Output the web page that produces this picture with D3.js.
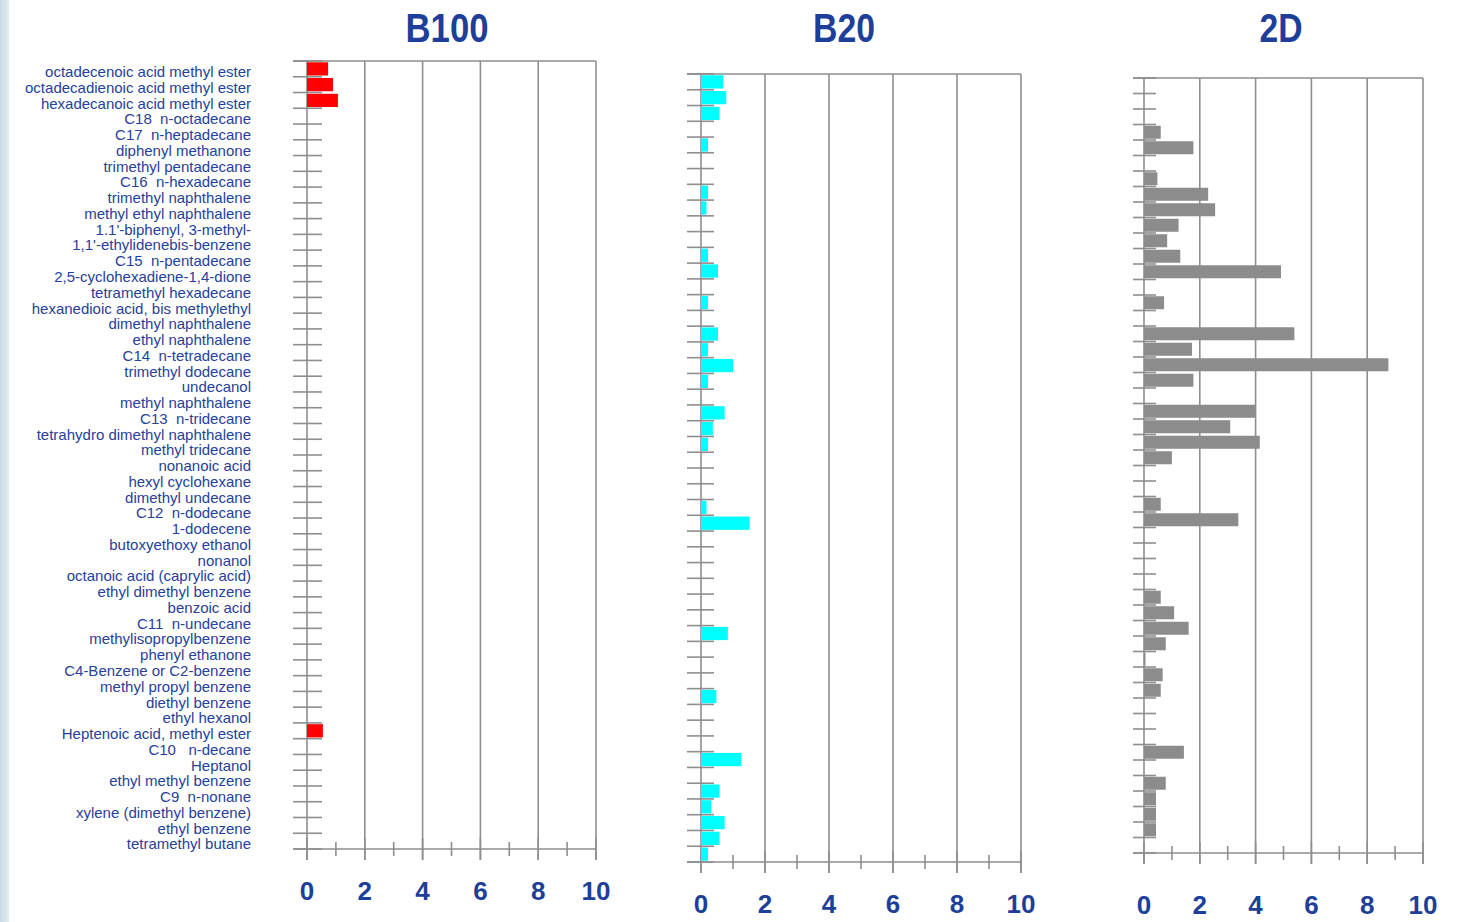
<!DOCTYPE html>
<html>
<head>
<meta charset="utf-8">
<script src="https://cdn.jsdelivr.net/npm/d3@7"></script>
<style>
  html, body { margin: 0; padding: 0; background: #fff; }
  svg { display: block; }
</style>
</head>
<body>
<div id="chart"></div>
<script>
const categories = [
  "octadecenoic acid methyl ester",
  "octadecadienoic acid methyl ester",
  "hexadecanoic acid methyl ester",
  "C18  n-octadecane",
  "C17  n-heptadecane",
  "diphenyl methanone",
  "trimethyl pentadecane",
  "C16  n-hexadecane",
  "trimethyl naphthalene",
  "methyl ethyl naphthalene",
  "1.1'-biphenyl, 3-methyl-",
  "1,1'-ethylidenebis-benzene",
  "C15  n-pentadecane",
  "2,5-cyclohexadiene-1,4-dione",
  "tetramethyl hexadecane",
  "hexanedioic acid, bis methylethyl",
  "dimethyl naphthalene",
  "ethyl naphthalene",
  "C14  n-tetradecane",
  "trimethyl dodecane",
  "undecanol",
  "methyl naphthalene",
  "C13  n-tridecane",
  "tetrahydro dimethyl naphthalene",
  "methyl tridecane",
  "nonanoic acid",
  "hexyl cyclohexane",
  "dimethyl undecane",
  "C12  n-dodecane",
  "1-dodecene",
  "butoxyethoxy ethanol",
  "nonanol",
  "octanoic acid (caprylic acid)",
  "ethyl dimethyl benzene",
  "benzoic acid",
  "C11  n-undecane",
  "methylisopropylbenzene",
  "phenyl ethanone",
  "C4-Benzene or C2-benzene",
  "methyl propyl benzene",
  "diethyl benzene",
  "ethyl hexanol",
  "Heptenoic acid, methyl ester",
  "C10   n-decane",
  "Heptanol",
  "ethyl methyl benzene",
  "C9  n-nonane",
  "xylene (dimethyl benzene)",
  "ethyl benzene",
  "tetramethyl butane"
];

// values read per panel row (row i of each panel)
const b100Values = [
  0.73, 0.9, 1.07, 0, 0, 0, 0, 0, 0, 0,
  0, 0, 0, 0, 0, 0, 0, 0, 0, 0,
  0, 0, 0, 0, 0, 0, 0, 0, 0, 0,
  0, 0, 0, 0, 0, 0, 0, 0, 0, 0,
  0, 0, 0.55, 0, 0, 0, 0, 0, 0, 0
];
const b20Values = [
  0.69, 0.79, 0.58, 0, 0.22, 0, 0, 0.22, 0.17, 0,
  0, 0.22, 0.53, 0, 0.22, 0, 0.53, 0.22, 1.0, 0.22,
  0, 0.74, 0.37, 0.22, 0, 0, 0, 0.17, 1.52, 0,
  0, 0, 0, 0, 0, 0.84, 0, 0, 0, 0.48,
  0, 0, 0, 1.26, 0, 0.58, 0.32, 0.74, 0.58, 0.22
];
const d2Values = [
  0, 0, 0, 0.6, 1.77, 0, 0.48, 2.3, 2.55, 1.24,
  0.83, 1.3, 4.91, 0, 0.72, 0, 5.39, 1.72, 8.76, 1.77,
  0, 4.0, 3.09, 4.15, 1.0, 0, 0, 0.6, 3.38, 0,
  0, 0, 0, 0.6, 1.08, 1.6, 0.78, 0.05, 0.67, 0.6,
  0, 0, 0, 1.43, 0, 0.78, 0.43, 0.43, 0.43, 0
];
const majorTicks = [0, 2, 4, 6, 8, 10];
const minorTicks = [1, 3, 5, 7, 9];

const W = 1458, H = 922;
const blue = "#1d3f99";
const grey = "#8e8e8e";

const panels = [
  { title: "B100", values: b100Values, color: "#ff0000", x0: 307, x1: 596, top: 61, bottom: 849,
    tickLeft: 293, tickRight: 322, labelDy: 51, titleX: 447, titleW: 83 },
  { title: "B20", values: b20Values, color: "#00ffff", x0: 701, x1: 1021, top: 74, bottom: 862,
    tickLeft: 687, tickRight: 714, labelDy: 51, titleX: 844, titleW: 62 },
  { title: "2D", values: d2Values, color: "#8c8c8c", x0: 1144, x1: 1423, top: 78, bottom: 853,
    tickLeft: 1133, tickRight: 1156, labelDy: 62, titleX: 1281, titleW: 43 }
];

const svg = d3.select("#chart").append("svg")
  .attr("width", W)
  .attr("height", H)
  .style("font-family", "'Liberation Sans', Arial, sans-serif");

const defs = svg.append("defs");
const grad = defs.append("linearGradient").attr("id", "strip").attr("x1", 0).attr("x2", 1);
grad.append("stop").attr("offset", "0%").attr("stop-color", "#c6dbe2");
grad.append("stop").attr("offset", "100%").attr("stop-color", "#e2edf1");

panels.forEach((p) => {
  const x = d3.scaleLinear().domain([0, 10]).range([p.x0, p.x1]);
  const y = d3.scaleBand().domain(categories).range([p.top, p.bottom]).paddingInner(0.16).paddingOuter(0.08);
  const g = svg.append("g");

  // gridlines
  g.selectAll("line.grid")
    .data(majorTicks.filter((d) => d > 0))
    .join("line")
    .attr("x1", (d) => x(d)).attr("x2", (d) => x(d))
    .attr("y1", p.top).attr("y2", p.bottom + 11)
    .attr("stroke", grey).attr("stroke-width", 1.6);

  // top frame and bottom axis
  g.append("line")
    .attr("x1", p.tickLeft).attr("x2", x(10))
    .attr("y1", p.top).attr("y2", p.top)
    .attr("stroke", grey).attr("stroke-width", 1.6);
  g.append("line")
    .attr("x1", p.tickLeft).attr("x2", x(10))
    .attr("y1", p.bottom).attr("y2", p.bottom)
    .attr("stroke", grey).attr("stroke-width", 1.6);

  // vertical axis
  g.append("line")
    .attr("x1", x(0)).attr("x2", x(0))
    .attr("y1", p.top).attr("y2", p.bottom + 11)
    .attr("stroke", grey).attr("stroke-width", 1.6);

  // category ticks at band boundaries
  const step = (p.bottom - p.top) / categories.length;
  g.selectAll("line.cat")
    .data(d3.range(categories.length + 1))
    .join("line")
    .attr("x1", p.tickLeft).attr("x2", p.tickRight)
    .attr("y1", (i) => p.top + i * step).attr("y2", (i) => p.top + i * step)
    .attr("stroke", grey).attr("stroke-width", 1.6);

  // x ticks
  g.selectAll("line.major")
    .data(majorTicks)
    .join("line")
    .attr("x1", (d) => x(d)).attr("x2", (d) => x(d))
    .attr("y1", p.bottom - 11).attr("y2", p.bottom + 11)
    .attr("stroke", grey).attr("stroke-width", 1.6);
  g.selectAll("line.minor")
    .data(minorTicks)
    .join("line")
    .attr("x1", (d) => x(d)).attr("x2", (d) => x(d))
    .attr("y1", p.bottom - 7).attr("y2", p.bottom + 7)
    .attr("stroke", grey).attr("stroke-width", 1.6);

  // bars
  g.selectAll("rect.bar")
    .data(categories.map((c, i) => ({ c, v: p.values[i] })).filter((d) => d.v > 0))
    .join("rect")
    .attr("x", x(0))
    .attr("y", (d) => y(d.c))
    .attr("width", (d) => Math.max(1.5, x(d.v) - x(0)))
    .attr("height", y.bandwidth())
    .attr("fill", p.color);

  // tick labels
  g.selectAll("text.tick")
    .data(majorTicks)
    .join("text")
    .attr("x", (d) => x(d))
    .attr("y", Math.min(p.bottom + p.labelDy, 914))
    .attr("text-anchor", "middle")
    .attr("fill", blue)
    .style("font-family", "'Liberation Sans Narrow', 'Arial Narrow', sans-serif")
    .style("font-weight", "bold")
    .style("font-size", "26px")
    .text((d) => d);

  // title
  svg.append("text")
    .attr("x", p.titleX)
    .attr("y", 42)
    .attr("text-anchor", "middle")
    .attr("fill", blue)
    .attr("textLength", p.titleW)
    .attr("lengthAdjust", "spacingAndGlyphs")
    .style("font-weight", "bold")
    .style("font-size", "41px")
    .text(p.title);
});

// category labels, left of the first panel
const yLab = d3.scaleBand().domain(categories).range([panels[0].top, panels[0].bottom]);
svg.append("g")
  .selectAll("text")
  .data(categories)
  .join("text")
  .attr("x", 251)
  .attr("y", (d) => yLab(d) + yLab.bandwidth() / 2 + 3)
  .attr("dy", "0.35em")
  .attr("text-anchor", "end")
  .attr("fill", "#26419a")
  .style("font-size", "15px")
  .style("white-space", "pre")
  .text((d) => d);

// left edge strip
svg.append("rect")
  .attr("x", 0).attr("y", 0)
  .attr("width", 9).attr("height", H)
  .attr("fill", "url(#strip)");
</script>
</body>
</html>
